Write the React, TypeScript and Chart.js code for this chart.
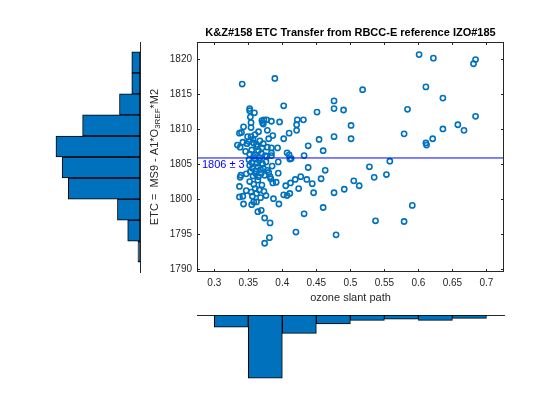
import React, { useEffect, useRef } from 'react';
import { Chart, registerables } from 'chart.js';

Chart.register(...registerables);

const ozoneSlantPath = [
  0.341, 0.389, 0.601, 0.622, 0.684, 0.681, 0.518, 0.611, 0.636, 0.476,
  0.402, 0.352, 0.352, 0.359, 0.476, 0.490, 0.451, 0.584, 0.353, 0.684,
  0.370, 0.373, 0.377, 0.384, 0.396, 0.422, 0.431, 0.371, 0.372, 0.354,
  0.343, 0.354, 0.421, 0.501, 0.658, 0.636, 0.667, 0.579, 0.337, 0.340,
  0.365, 0.410, 0.421, 0.378, 0.386, 0.349, 0.354, 0.360, 0.454, 0.476,
  0.501, 0.611, 0.612, 0.621, 0.402, 0.334, 0.338, 0.342, 0.351, 0.358,
  0.363, 0.370, 0.384, 0.393, 0.438, 0.460, 0.432, 0.407, 0.410, 0.411,
  0.413, 0.394, 0.384, 0.384, 0.377, 0.438, 0.463, 0.528, 0.558, 0.394,
  0.427, 0.419, 0.436, 0.444, 0.457, 0.505, 0.513, 0.535, 0.553, 0.339,
  0.338, 0.382, 0.383, 0.386, 0.391, 0.405, 0.337, 0.476, 0.446, 0.491,
  0.411, 0.407, 0.402, 0.376, 0.387, 0.395, 0.337, 0.342, 0.343, 0.358,
  0.460, 0.432, 0.364, 0.369, 0.374, 0.382, 0.420, 0.479, 0.537, 0.579,
  0.591, 0.381, 0.374, 0.346, 0.348, 0.352, 0.355, 0.357, 0.360, 0.362,
  0.365, 0.367, 0.369, 0.372, 0.375, 0.378, 0.380, 0.358, 0.347, 0.351,
  0.352, 0.353, 0.355, 0.356, 0.357, 0.359, 0.360, 0.361, 0.363, 0.364,
  0.365, 0.366, 0.368, 0.369, 0.371, 0.372, 0.374, 0.376, 0.378, 0.380,
  0.367, 0.385, 0.347, 0.352, 0.354, 0.356, 0.358, 0.360, 0.362, 0.364,
  0.366, 0.368, 0.370, 0.373, 0.412, 0.424, 0.355, 0.362,
];
const etcValues = [
  1816.4, 1817.2, 1820.6, 1820.1, 1819.9, 1819.3, 1815.6, 1816.0, 1814.4, 1814.0,
  1813.3, 1812.9, 1812.6, 1812.3, 1812.9, 1812.7, 1812.4, 1812.8, 1811.7, 1811.8,
  1811.2, 1811.3, 1811.3, 1811.1, 1811.0, 1811.3, 1811.3, 1810.9, 1810.7, 1810.9,
  1810.3, 1810.2, 1810.6, 1810.5, 1810.6, 1810.0, 1809.8, 1809.3, 1809.4, 1809.5,
  1809.6, 1809.4, 1809.8, 1809.8, 1809.05, 1808.9, 1808.9, 1809.2, 1808.5, 1808.9,
  1808.6, 1808.0, 1807.7, 1808.6, 1808.6, 1807.7, 1807.4, 1808.1, 1808.2, 1808.0,
  1807.5, 1807.3, 1807.3, 1807.3, 1807.6, 1806.9, 1806.2, 1806.6, 1806.3, 1805.7,
  1805.8, 1805.3, 1806.6, 1806.2, 1806.05, 1804.5, 1804.1, 1804.6, 1805.4, 1803.7,
  1803.2, 1802.8, 1802.8, 1802.2, 1802.9, 1802.6, 1801.9, 1803.1, 1803.5, 1803.4,
  1803.1, 1803.2, 1802.9, 1802.3, 1802.4, 1801.9, 1801.8, 1800.9, 1800.9, 1801.4,
  1800.8, 1800.5, 1800.6, 1800.5, 1800.05, 1799.3, 1800.3, 1800.4, 1799.3, 1799.6,
  1798.8, 1797.9, 1798.2, 1798.4, 1797.3, 1796.6, 1795.3, 1794.9, 1796.9, 1796.8,
  1799.1, 1794.5, 1793.7, 1806.8, 1807.9, 1806.4, 1807.0, 1808.5, 1806.3, 1807.8,
  1806.9, 1808.3, 1806.5, 1807.9, 1806.2, 1807.4, 1808.6, 1806.1, 1803.6, 1805.6,
  1804.8, 1803.9, 1805.2, 1804.4, 1803.3, 1805.8, 1804.0, 1803.6, 1805.1, 1804.6,
  1803.2, 1805.5, 1804.2, 1803.7, 1805.0, 1804.4, 1803.4, 1805.3, 1804.1, 1803.8,
  1805.9, 1804.7, 1801.2, 1802.5, 1801.0, 1800.4, 1802.1, 1801.5, 1800.8, 1802.7,
  1801.3, 1800.2, 1802.0, 1801.1, 1802.3, 1801.5, 1799.2, 1799.6,
];

const etcMean = 1805.86;
const etcStd = 3;

// marginal histograms
const etcBinCenters = [1792.5, 1795.5, 1798.5, 1801.5, 1804.5, 1807.5, 1810.5, 1813.5, 1816.5, 1819.5];
const etcBinCounts = [1, 6, 11, 35, 38, 41, 28, 10, 4, 4];
const pathBinCenters = [0.325, 0.375, 0.425, 0.475, 0.525, 0.575, 0.625, 0.675];
const pathBinCounts = [18, 93, 27, 13, 8, 6, 8, 5];

const xTicks = [0.3, 0.35, 0.4, 0.45, 0.5, 0.55, 0.6, 0.65, 0.7];
const yTicks = [1790, 1795, 1800, 1805, 1810, 1815, 1820];
const xLimits = [0.2746, 0.7258];
const yLimits = [1789.6, 1822.4];

const titleText = 'K&Z#158 ETC Transfer from RBCC-E reference IZO#185';
const xLabel = 'ozone slant path';

const BLUE = '#0072BD';
const AXIS = '#262626';
const FONT = '"Liberation Sans", Arial, Helvetica, sans-serif';

const framePlugin = {
  id: 'matlabFrame',
  afterDraw(chart: any) {
    const { ctx, chartArea: a, scales } = chart;
    const xs = scales.x;
    const ys = scales.y;
    ctx.save();
    ctx.strokeStyle = AXIS;
    ctx.lineWidth = 1;
    ctx.strokeRect(a.left + 0.5, a.top + 0.5, a.width - 1, a.height - 1);
    ctx.beginPath();
    xTicks.forEach((v) => {
      const p = Math.round(xs.getPixelForValue(v)) + 0.5;
      ctx.moveTo(p, a.bottom);
      ctx.lineTo(p, a.bottom - 3);
      ctx.moveTo(p, a.top);
      ctx.lineTo(p, a.top + 3);
    });
    yTicks.forEach((v) => {
      const p = Math.round(ys.getPixelForValue(v)) + 0.5;
      ctx.moveTo(a.left, p);
      ctx.lineTo(a.left + 3, p);
      ctx.moveTo(a.right, p);
      ctx.lineTo(a.right - 3, p);
    });
    ctx.stroke();

    // title
    ctx.fillStyle = '#000';
    ctx.font = `bold 11px ${FONT}`;
    ctx.textAlign = 'center';
    ctx.textBaseline = 'middle';
    ctx.fillText(titleText, (a.left + a.right) / 2, a.top - 9);

    // x label
    ctx.fillStyle = AXIS;
    ctx.font = `11px ${FONT}`;
    ctx.fillText(xLabel, (a.left + a.right) / 2, a.bottom + 26);

    // mean label
    ctx.fillStyle = '#0000FF';
    ctx.textAlign = 'left';
    ctx.textBaseline = 'top';
    ctx.fillText(`${Math.round(etcMean)} \u00b1 ${etcStd}`, a.left + 5, ys.getPixelForValue(etcMean) + 1);

    // y label with subscript
    const parts = [
      { t: 'ETC =  MS9 - A1*O', f: `11px ${FONT}`, dy: 0 },
      { t: '3REF', f: `8px ${FONT}`, dy: 3 },
      { t: '*M2', f: `11px ${FONT}`, dy: 0 },
    ];
    let total = 0;
    parts.forEach((p) => {
      ctx.font = p.f;
      total += ctx.measureText(p.t).width;
    });
    ctx.translate(a.left - 42, (a.top + a.bottom) / 2);
    ctx.rotate(-Math.PI / 2);
    ctx.fillStyle = AXIS;
    ctx.textAlign = 'left';
    ctx.textBaseline = 'middle';
    let cx = -total / 2;
    parts.forEach((p) => {
      ctx.font = p.f;
      ctx.fillText(p.t, cx, p.dy);
      cx += ctx.measureText(p.t).width;
    });
    ctx.restore();
  },
};

const abs: React.CSSProperties = { position: 'absolute', left: 0, top: 0 };

export default function App() {
  const mainRef = useRef<HTMLCanvasElement | null>(null);
  const leftRef = useRef<HTMLCanvasElement | null>(null);
  const bottomRef = useRef<HTMLCanvasElement | null>(null);

  useEffect(() => {
    const charts: Chart[] = [];
    const tickFont = { family: FONT, size: 10 };

    if (leftRef.current) {
      charts.push(
        new Chart(leftRef.current, {
          type: 'bar',
          data: {
            datasets: [
              {
                data: etcBinCenters.map((c, i) => ({ x: etcBinCounts[i], y: c })),
                backgroundColor: BLUE,
                borderColor: '#000',
                borderWidth: 1,
                borderSkipped: false,
                barPercentage: 1,
                categoryPercentage: 1,
              },
            ],
          },
          options: {
            indexAxis: 'y',
            responsive: false,
            animation: false,
            layout: { padding: { left: 17, right: 420, top: 42, bottom: 148 } },
            plugins: { legend: { display: false }, tooltip: { enabled: false } },
            scales: {
              y: {
                type: 'linear',
                position: 'right',
                offset: false,
                min: yLimits[0],
                max: yLimits[1],
                ticks: { display: false },
                grid: { display: false, drawTicks: false },
                border: { display: true, color: AXIS, width: 1 },
                afterBuildTicks: (s: any) => { s.ticks = etcBinCenters.map((value) => ({ value })); },
                afterFit: (s: any) => { s.width = 0; },
              },
              x: { type: 'linear', reverse: true, min: 0, max: 60, display: false },
            },
          },
        } as any)
      );
    }

    if (bottomRef.current) {
      charts.push(
        new Chart(bottomRef.current, {
          type: 'bar',
          data: {
            datasets: [
              {
                data: pathBinCenters.map((c, i) => ({ x: c, y: pathBinCounts[i] })),
                backgroundColor: BLUE,
                borderColor: '#000',
                borderWidth: 1,
                borderSkipped: false,
                barPercentage: 1,
                categoryPercentage: 1,
              },
            ],
          },
          options: {
            responsive: false,
            animation: false,
            layout: { padding: { left: 197, right: 56, top: 315, bottom: 20 } },
            plugins: { legend: { display: false }, tooltip: { enabled: false } },
            scales: {
              x: {
                type: 'linear',
                position: 'top',
                offset: false,
                min: xLimits[0],
                max: xLimits[1],
                ticks: { display: false },
                grid: { display: false, drawTicks: false },
                border: { display: true, color: AXIS, width: 1 },
                afterBuildTicks: (s: any) => { s.ticks = pathBinCenters.map((value) => ({ value })); },
                afterFit: (s: any) => { s.height = 0; },
              },
              y: { type: 'linear', reverse: true, min: 0, max: 125, display: false },
            },
          },
        } as any)
      );
    }

    if (mainRef.current) {
      charts.push(
        new Chart(mainRef.current, {
          type: 'scatter',
          data: {
            datasets: [
              {
                type: 'line',
                data: [
                  { x: xLimits[0], y: etcMean },
                  { x: xLimits[1], y: etcMean },
                ],
                borderColor: '#0000FF',
                borderWidth: 1,
                pointRadius: 0,
              },
              {
                data: ozoneSlantPath.map((x, i) => ({ x, y: etcValues[i] })),
                pointStyle: 'circle',
                pointRadius: 2.6,
                borderWidth: 1.6,
                borderColor: BLUE,
                backgroundColor: 'rgba(0,0,0,0)',
              },
            ],
          },
          options: {
            responsive: false,
            animation: false,
            layout: { padding: { left: 0, top: 42, right: 56, bottom: 0 } },
            plugins: { legend: { display: false }, tooltip: { enabled: false } },
            scales: {
              x: {
                type: 'linear',
                min: xLimits[0],
                max: xLimits[1],
                grid: { display: false, drawTicks: false },
                border: { display: false },
                ticks: {
                  font: tickFont,
                  color: AXIS,
                  padding: 5,
                  maxRotation: 0,
                  autoSkip: false,
                  callback: (v: any) => String(Math.round(Number(v) * 100) / 100),
                },
                afterBuildTicks: (s: any) => { s.ticks = xTicks.map((value) => ({ value })); },
                afterFit: (s: any) => { s.height = 148; },
              },
              y: {
                type: 'linear',
                min: yLimits[0],
                max: yLimits[1],
                grid: { display: false, drawTicks: false },
                border: { display: false },
                ticks: {
                  font: tickFont,
                  color: AXIS,
                  padding: 5,
                  autoSkip: false,
                  callback: (v: any) => String(v),
                },
                afterBuildTicks: (s: any) => { s.ticks = yTicks.map((value) => ({ value })); },
                afterFit: (s: any) => { s.width = 197; },
              },
            },
          },
          plugins: [framePlugin],
        } as any)
      );
    }

    return () => {
      charts.forEach((c) => c.destroy());
    };
  }, []);

  return (
    <div style={{ position: 'fixed', left: 0, top: 0, width: 560, height: 420, background: '#fff' }}>
      <canvas ref={leftRef} width={560} height={420} style={abs} />
      <canvas ref={bottomRef} width={560} height={420} style={abs} />
      <canvas ref={mainRef} width={560} height={420} style={abs} />
    </div>
  );
}
